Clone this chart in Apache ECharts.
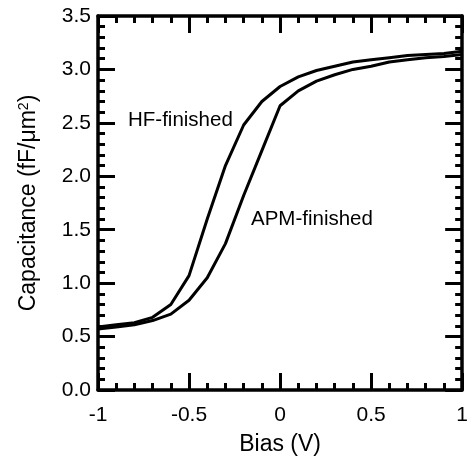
<!DOCTYPE html>
<html>
<head>
<meta charset="utf-8">
<script src="https://cdn.jsdelivr.net/npm/echarts@6/dist/echarts.min.js"></script>
<style>html,body{margin:0;padding:0;background:#fff}#c{width:471px;height:461px}</style>
</head>
<body>
<div id="c"></div>
<script>
var bias = [-1.0, -0.9, -0.8, -0.7, -0.6, -0.5, -0.4, -0.3, -0.2, -0.1, 0.0, 0.1, 0.2, 0.3, 0.4, 0.5, 0.6, 0.7, 0.8, 0.9, 1.0];
var hfFinished = [0.59, 0.61, 0.63, 0.68, 0.80, 1.07, 1.60, 2.10, 2.48, 2.70, 2.84, 2.93, 2.99, 3.03, 3.07, 3.09, 3.11, 3.13, 3.14, 3.15, 3.17];
var apmFinished = [0.57, 0.59, 0.61, 0.65, 0.71, 0.84, 1.05, 1.37, 1.82, 2.24, 2.66, 2.80, 2.89, 2.95, 3.00, 3.03, 3.07, 3.09, 3.11, 3.12, 3.14];
var xTickLabels = ['-1', '-0.5', '0', '0.5', '1'];
var yTickLabels = ['0.0', '0.5', '1.0', '1.5', '2.0', '2.5', '3.0', '3.5'];

var font = 'Liberation Sans, Arial, sans-serif';
function pairs(xs, ys) { return xs.map(function (x, i) { return [x, ys[i]]; }); }

function axisLine() { return { show: true, onZero: false, lineStyle: { color: '#000', width: 3.5 } }; }
function tick() { return { show: true, inside: true, length: 17, lineStyle: { color: '#000', width: 3 } }; }
function minor() { return { show: true, splitNumber: 5, length: 7, lineStyle: { color: '#000', width: 3 } }; }

var chart = echarts.init(document.getElementById('c'));
chart.setOption({
  animation: false,
  backgroundColor: '#fff',
  grid: { left: 98, right: 5, top: 16, bottom: 69 },
  xAxis: [{
    type: 'value', min: -1, max: 1, interval: 0.5, position: 'bottom',
    axisLine: axisLine(), axisTick: tick(), minorTick: minor(), splitLine: { show: false },
    axisLabel: { color: '#000', fontSize: 21, fontFamily: font, margin: 15,
      formatter: function (v) { return xTickLabels[Math.round((v + 1) / 0.5)]; } },
    name: 'Bias (V)', nameLocation: 'middle', nameGap: 43,
    nameTextStyle: { color: '#000', fontSize: 23, fontFamily: font }
  }, {
    type: 'value', min: -1, max: 1, interval: 0.5, position: 'top',
    axisLine: axisLine(), axisTick: tick(), minorTick: minor(), splitLine: { show: false },
    axisLabel: { show: false }
  }],
  yAxis: [{
    type: 'value', min: 0, max: 3.5, interval: 0.5, position: 'left',
    axisLine: axisLine(), axisTick: tick(), minorTick: minor(), splitLine: { show: false },
    axisLabel: { color: '#000', fontSize: 21, fontFamily: font, margin: 7,
      formatter: function (v) { return yTickLabels[Math.round(v / 0.5)]; } },
    name: 'Capacitance (fF/μm{sup|2})', nameLocation: 'middle', nameGap: 58, nameRotate: 90,
    nameTextStyle: { color: '#000', fontSize: 23, fontFamily: font,
      rich: { sup: { fontSize: 14, fontFamily: font, color: '#000', verticalAlign: 'top', lineHeight: 14, padding: [0, 0, 12, 0] } } }
  }, {
    type: 'value', min: 0, max: 3.5, interval: 0.5, position: 'right',
    axisLine: axisLine(), axisTick: tick(), minorTick: minor(), splitLine: { show: false },
    axisLabel: { show: false }
  }],
  series: [{
    name: 'HF-finished', type: 'line', data: pairs(bias, hfFinished), showSymbol: false,
    lineStyle: { color: '#000', width: 3 }, clip: false
  }, {
    name: 'APM-finished', type: 'line', data: pairs(bias, apmFinished), showSymbol: false,
    lineStyle: { color: '#000', width: 3 }, clip: false
  }],
  graphic: [
    { type: 'text', left: 128, top: 110, style: { text: 'HF-finished', fill: '#000', font: '20.5px ' + font } },
    { type: 'text', left: 251, top: 209, style: { text: 'APM-finished', fill: '#000', font: '20.5px ' + font } }
  ]
});
</script>
</body>
</html>
